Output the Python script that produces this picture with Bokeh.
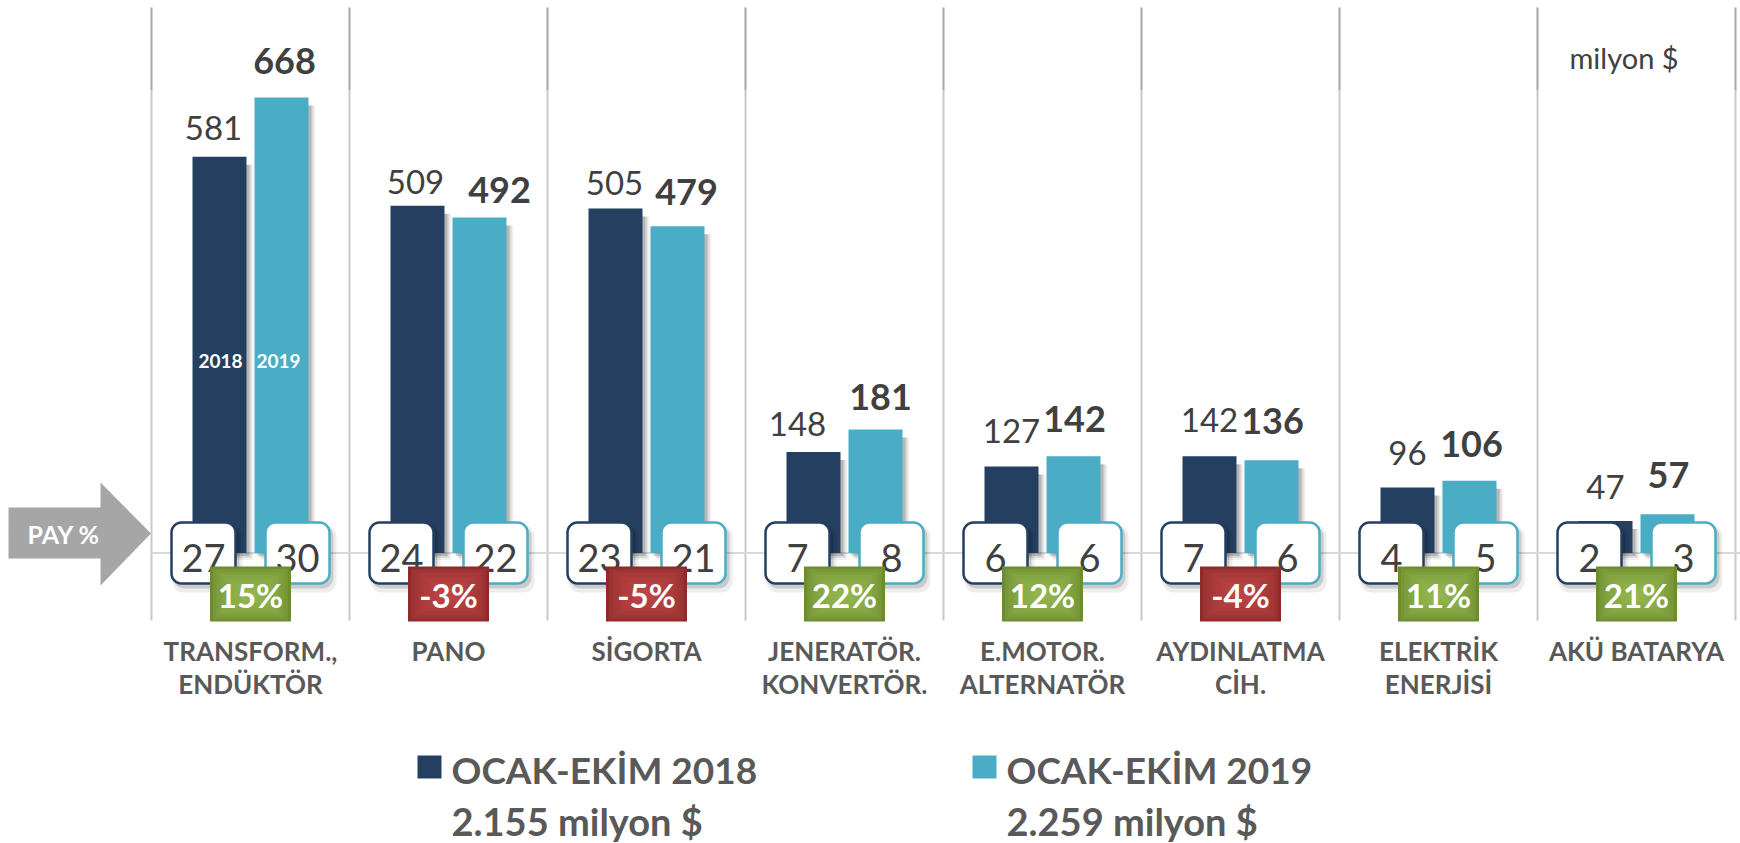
import math
from bokeh.plotting import figure
from bokeh.models import Range1d, ColumnDataSource
from bokeh.core.properties import value
from bokeh.embed import file_html
from bokeh.resources import INLINE

# ---------------- data ----------------
cat_line1 = ["TRANSFORM.,", "PANO", "SİGORTA", "JENERATÖR.", "E.MOTOR.",
             "AYDINLATMA", "ELEKTRİK", "AKÜ BATARYA"]
cat_line2 = ["ENDÜKTÖR", "", "", "KONVERTÖR.", "ALTERNATÖR", "CİH.", "ENERJİSİ", ""]
values_2018 = [581, 509, 505, 148, 127, 142, 96, 47]
values_2019 = [668, 492, 479, 181, 142, 136, 106, 57]
share_2018 = [27, 24, 23, 7, 6, 7, 4, 2]
share_2019 = [30, 22, 21, 8, 6, 6, 5, 3]
change_pct = [15, -3, -5, 22, 12, -4, 11, 21]
series_names = ["OCAK-EKİM 2018", "OCAK-EKİM 2019"]
series_totals = ["2.155 milyon $", "2.259  milyon $"]
year_tags = ["2018", "2019"]
unit_label = "milyon $"
pay_label = "PAY %"

# ---------------- layout / style ----------------
DARK = "#243f60"
LIGHT = "#4bacc6"
TXT = "#404040"
LBL = "#595959"
FONT = value("Lato")

W, H = 1740, 843
SX = 198.0     # px per category
SY = 0.682     # px per million $
BASE_IMG = 552.5
X0 = -250 / SX
YT = BASE_IMG / SY

def ix(x_img):
    return (x_img - 250) / SX

def iy(y_img):
    return (BASE_IMG - y_img) / SY

n = len(values_2018)
idx = list(range(n))
OFF = 31 / SX
BW = 54 / SX

p = figure(width=W, height=H, x_range=Range1d(X0, X0 + W / SX),
           y_range=Range1d(YT - H / SY, YT), output_backend="svg",
           toolbar_location=None, x_axis_type=None, y_axis_type=None,
           min_border=0, outline_line_color=None)
p.grid.visible = False
p.background_fill_color = "white"
p.border_fill_color = "white"

# separators
sep_x = [i - 0.5 for i in range(n + 1)]
p.segment(x0=sep_x, y0=[iy(90)] * len(sep_x), x1=sep_x, y1=[iy(7)] * len(sep_x),
          line_color="#a6a6a6", line_width=2)
p.segment(x0=sep_x, y0=[iy(620)] * len(sep_x), x1=sep_x, y1=[iy(90)] * len(sep_x),
          line_color="#c9c9c9", line_width=2)
# baseline
p.segment(x0=[-0.5], y0=[0], x1=[X0 + W / SX], y1=[0], line_color="#d9d9d9", line_width=2)

# arrow
p.patch(x=[ix(8), ix(100), ix(100), ix(150.5), ix(100), ix(100), ix(8)],
        y=[iy(507), iy(507), iy(482), iy(533), iy(585), iy(558), iy(558)],
        fill_color="#a6a6a6", line_color=None)
p.text(x=[ix(27)], y=[iy(533)], text=[pay_label], text_font=FONT,
       text_font_style="bold", text_font_size="25px", text_color="white",
       text_baseline="alphabetic", text_align="left")

x18 = [i - OFF for i in idx]
x19 = [i + OFF for i in idx]

# bar shadows
for dxp, a in [(3, 0.16), (5, 0.10), (7, 0.05)]:
    for xs, vals in [(x18, values_2018), (x19, values_2019)]:
        p.vbar(x=[x + dxp / SX for x in xs], width=BW,
               top=[v - 8 / SY for v in vals], bottom=-dxp / SY,
               fill_color="black", fill_alpha=a, line_color=None)

# bars
p.vbar(x=x18, width=BW, top=values_2018, bottom=0, fill_color=DARK, line_color=None)
p.vbar(x=x19, width=BW, top=values_2019, bottom=0, fill_color=LIGHT, line_color=None)

# value labels
gap18 = [29, 24, 26, 28, 35, 36, 35, 34]
nud18 = [-6, -2, -1, -16, 0, 0, 0, 0]
gap19 = [36, 27, 34, 33, 37, 39, 37, 39]
nud19 = [3, 20, 9, 5, 1, 1, 2, 1]
p.text(x=x18, y=values_2018, text=[str(v) for v in values_2018],
       x_offset=nud18, y_offset=[-g for g in gap18], text_font=FONT,
       text_font_size="33px", text_color=TXT, text_align="center",
       text_baseline="alphabetic")
p.text(x=x19, y=values_2019, text=[str(v) for v in values_2019],
       x_offset=nud19, y_offset=[-g for g in gap19], text_font=FONT,
       text_font_style="bold", text_font_size="36px", text_color=TXT,
       text_align="center", text_baseline="alphabetic")

# year tags inside the first pair of bars
p.text(x=[x18[0], x19[0]], y=[iy(360)] * 2, text=year_tags, x_offset=[1, -3],
       text_font=FONT, text_font_style="bold", text_font_size="19px",
       text_color="white", text_align="center", text_baseline="alphabetic")

# rounded pills
def rrect(cx, cy, w, h, r, k=8):
    pts = []
    hw, hh = w / 2 - r, h / 2 - r
    for ccx, ccy, a0 in [(hw, hh, 0), (-hw, hh, 90), (-hw, -hh, 180), (hw, -hh, 270)]:
        for j in range(k + 1):
            a = math.radians(a0 + 90 * j / k)
            pts.append((ccx + r * math.cos(a), ccy + r * math.sin(a)))
    return [cx + q[0] / SX for q in pts], [cy + q[1] / SY for q in pts]

PO = 47 / SX
pill18 = [i - PO for i in idx]
pill19 = [i + PO for i in idx]
for dxp, dyp, grow, a in [(4, 6, 6, 0.07), (3, 4, 2, 0.14)]:
    xs_l, ys_l = [], []
    for cx in pill18 + pill19:
        xx, yy = rrect(cx + dxp / SX, -dyp / SY, 64 + grow, 61 + grow, 11)
        xs_l.append(xx)
        ys_l.append(yy)
    p.patches(xs=xs_l, ys=ys_l, fill_color="black", fill_alpha=a, line_color=None)

for centers, col in [(pill18, DARK), (pill19, LIGHT)]:
    xs_l, ys_l = [], []
    for cx in centers:
        xx, yy = rrect(cx, 0, 64, 61, 10)
        xs_l.append(xx)
        ys_l.append(yy)
    p.patches(xs=xs_l, ys=ys_l, fill_color="white", line_color=col, line_width=2.5,
              line_join="round")

p.text(x=pill18, y=[0] * n, text=[str(s) for s in share_2018], y_offset=5,
       text_font=FONT, text_font_size="38px", text_color=TXT, text_align="center",
       text_baseline="alphabetic")
p.text(x=pill19, y=[0] * n, text=[str(s) for s in share_2019], y_offset=5,
       text_font=FONT, text_font_size="38px", text_color=TXT, text_align="center",
       text_baseline="alphabetic")

# change badges with a soft radial-like gradient
def hex2rgb(h):
    h = h.lstrip("#")
    return tuple(int(h[k:k + 2], 16) for k in (0, 2, 4))

def mix(c1, c2, t):
    a, b = hex2rgb(c1), hex2rgb(c2)
    return "#%02x%02x%02x" % tuple(round(a[k] + (b[k] - a[k]) * t) for k in range(3))

G_EDGE, G_MID = "#6c8c2f", "#93b54e"
R_EDGE, R_MID = "#8f2a2a", "#bb4444"
BCY = -41 / SY
NL = 12
bx, bw, bh, bc = [], [], [], []
for i in idx:
    e, m = (G_EDGE, G_MID) if change_pct[i] >= 0 else (R_EDGE, R_MID)
    for k in range(NL):
        t = k / (NL - 1)
        s = 1 - 0.85 * t
        bx.append(i)
        bw.append(81 * s / SX)
        bh.append(55 * s / SY)
        bc.append(mix(e, m, math.sqrt(t)))
src_b = ColumnDataSource(dict(x=bx, w=bw, h=bh, c=bc, y=[BCY] * len(bx)))
p.rect(x="x", y="y", width="w", height="h", fill_color="c", line_color=None, source=src_b)

p.text(x=idx, y=[0] * n, text=[f"{c}%" for c in change_pct], y_offset=42,
       text_font=FONT, text_font_style="bold", text_font_size="33px",
       text_color="white", text_align="center", text_baseline="alphabetic")

# category labels
p.text(x=idx, y=[0] * n, text=cat_line1, y_offset=97.5, text_font=FONT,
       text_font_style="bold", text_font_size="26px", text_color=LBL,
       text_align="center", text_baseline="alphabetic")
p.text(x=idx, y=[0] * n, text=cat_line2, y_offset=130.5, text_font=FONT,
       text_font_style="bold", text_font_size="26px", text_color=LBL,
       text_align="center", text_baseline="alphabetic")

# unit label
p.text(x=[ix(1569)], y=[iy(57)], text=[unit_label], text_font=FONT,
       text_font_size="29px", text_color=TXT, text_align="left",
       text_baseline="alphabetic")

# legend
leg_sq_x = [ix(429), ix(984)]
p.rect(x=leg_sq_x, y=[iy(766.5)] * 2, width=24 / SX, height=23 / SY,
       fill_color=[DARK, LIGHT], line_color=None)
p.text(x=[ix(451), ix(1006)], y=[iy(769)] * 2, text=series_names, text_font=FONT,
       text_font_style="bold", text_font_size="37px", text_color=LBL,
       text_align="left", text_baseline="alphabetic")
p.text(x=[ix(451), ix(1006)], y=[iy(820)] * 2, text=series_totals, text_font=FONT,
       text_font_style="bold", text_font_size="38px", text_color=LBL,
       text_align="left", text_baseline="alphabetic")

open("out.html", "w").write(file_html(p, INLINE))
